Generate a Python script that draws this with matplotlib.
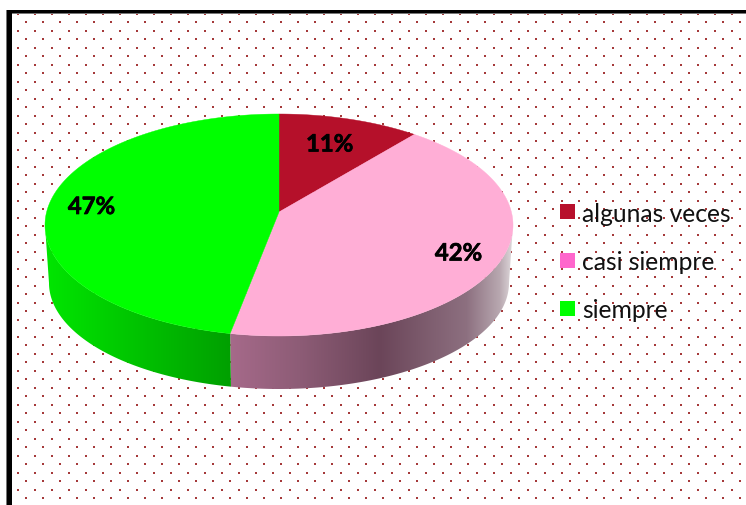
"""
plot.py

3D looking pie chart on a dotted background.
"""

import numpy as np
import matplotlib
matplotlib.use('Agg')
import matplotlib.pyplot as plt
import matplotlib.patheffects as pe
from matplotlib.patches import Polygon, Rectangle

categories = ['algunas veces', 'casi siempre', 'siempre']
values = [11, 42, 47]
labels = ['11%', '42%', '47%']

top_colors = ['#b5102a', '#ffaed6', '#00ff00']
legend_colors = ['#b8102c', '#ff66cc', '#00ff00']

# shading of the side wall, along x in pixels
wall_x = [230, 300, 380, 467, 500, 512]
wall_pink = ['#a66a8a', '#8d5c76', '#6b4559', '#8d7080', '#b8a8b0', '#dcd6d9']
wall_green_x = [45, 100, 150, 230]
wall_green = ['#00e600', '#00d200', '#00be00', '#00a000']

CX, CY, RX, RY = 279.0, 226.0, 234.0, 111.0
BCY, BRX, BRY = 284.0, 230.0, 106.0
APEX = 0.117  # the pie centre sits above the ellipse centre (perspective)


def rim_param(theta):
    ''' Ellipse angle hit by a ray from the apex at angle theta'''
    c = np.cos(theta)
    s = -APEX * c + np.sqrt((APEX * c) ** 2 + 1 - APEX ** 2)
    return np.arctan2(s * np.sin(theta), APEX + s * c)


def draw_background(ax):
    ''' Dots and frame'''
    color = '#a5393a'
    xa, ya = np.meshgrid(np.arange(26, 746, 17), np.arange(23, 506, 17))
    ax.scatter(xa.ravel(), ya.ravel(), s=3.2, marker='s', c=color,
               linewidths=0, zorder=1)
    xb, yb = np.meshgrid(np.arange(17.5, 746, 17), np.arange(14.7, 506, 17))
    ax.scatter(xb.ravel(), yb.ravel(), s=1.8, marker='s', c=color,
               linewidths=0, zorder=1)
    ax.add_patch(Rectangle((6, 14), 740, 1.2, fc='#777777', ec='none', zorder=2))
    ax.add_patch(Rectangle((6, 11), 740, 3.3, fc='black', ec='none', zorder=3))
    ax.add_patch(Rectangle((6, 11), 1, 495, fc='#777777', ec='none', zorder=3))
    ax.add_patch(Rectangle((7, 11), 5, 495, fc='black', ec='none', zorder=3))


def draw_wall(ax, t1, t2, xs, colors):
    ''' Side wall between two ellipse angles: x gradient clipped to its outline'''
    ts = np.linspace(t1, t2, 200)
    upper = np.column_stack([CX + RX * np.sin(ts), CY - RY * np.cos(ts)])
    lower = np.column_stack([CX + BRX * np.sin(ts), BCY - BRY * np.cos(ts)])
    outline = np.vstack([upper, lower[::-1]])
    clip = Polygon(outline, fc='none', ec='none', transform=ax.transData)
    ax.add_patch(clip)

    x0, x1 = outline[:, 0].min(), outline[:, 0].max()
    grid = np.linspace(x0, x1, 600)
    rgb = np.array([matplotlib.colors.to_rgb(c) for c in colors])
    row = np.column_stack([np.interp(grid, xs, rgb[:, i]) for i in range(3)])
    y0, y1 = outline[:, 1].min(), outline[:, 1].max()
    img = ax.imshow(row[np.newaxis, :, :], extent=(x0, x1, y1, y0),
                    aspect='auto', interpolation='bilinear', zorder=4)
    img.set_clip_path(clip)


def draw_pie(ax):
    edges = 2 * np.pi * np.cumsum([0] + values) / sum(values)
    params = [rim_param(e) % (2 * np.pi) for e in edges]
    params[-1] = 2 * np.pi

    draw_wall(ax, np.pi / 2, params[2], wall_x, wall_pink)
    draw_wall(ax, params[2], 3 * np.pi / 2, wall_green_x, wall_green)

    apex = (CX, CY - APEX * RY)
    for i, color in enumerate(top_colors):
        ts = np.linspace(params[i], params[i + 1], 200)
        pts = [apex] + list(zip(CX + RX * np.sin(ts), CY - RY * np.cos(ts)))
        ax.add_patch(Polygon(pts, fc=color, ec=color, lw=0.3, zorder=5))


def main():
    plt.rcParams['font.family'] = ['Lato', 'DejaVu Sans']
    fig = plt.figure(figsize=(7.46, 5.06), dpi=100)
    ax = fig.add_axes([0, 0, 1, 1])

    draw_background(ax)
    draw_pie(ax)

    ax.set_xlim(0, 746)
    ax.set_ylim(506, 0)
    ax.axis('off')

    label_pos = [(329.5, 145), (458.5, 254), (91.5, 207.5)]
    for text, (x, y) in zip(labels, label_pos):
        t = ax.text(x, y, text, fontsize=17.2, fontweight='bold', color='black',
                    ha='center', va='center', zorder=6)
        t.set_path_effects([pe.withStroke(linewidth=0.5, foreground='black')])

    legend_y = [205, 254, 302]
    for name, color, y in zip(categories, legend_colors, legend_y):
        ax.add_patch(Rectangle((560, y), 15, 15, fc=color, ec='none', zorder=6))
        ax.text(582, y + 9, name, fontsize=17.7, color='#111111',
                ha='left', va='center', zorder=6)

    fig.savefig('out.png', dpi=100)


if __name__ == '__main__':
    main()
